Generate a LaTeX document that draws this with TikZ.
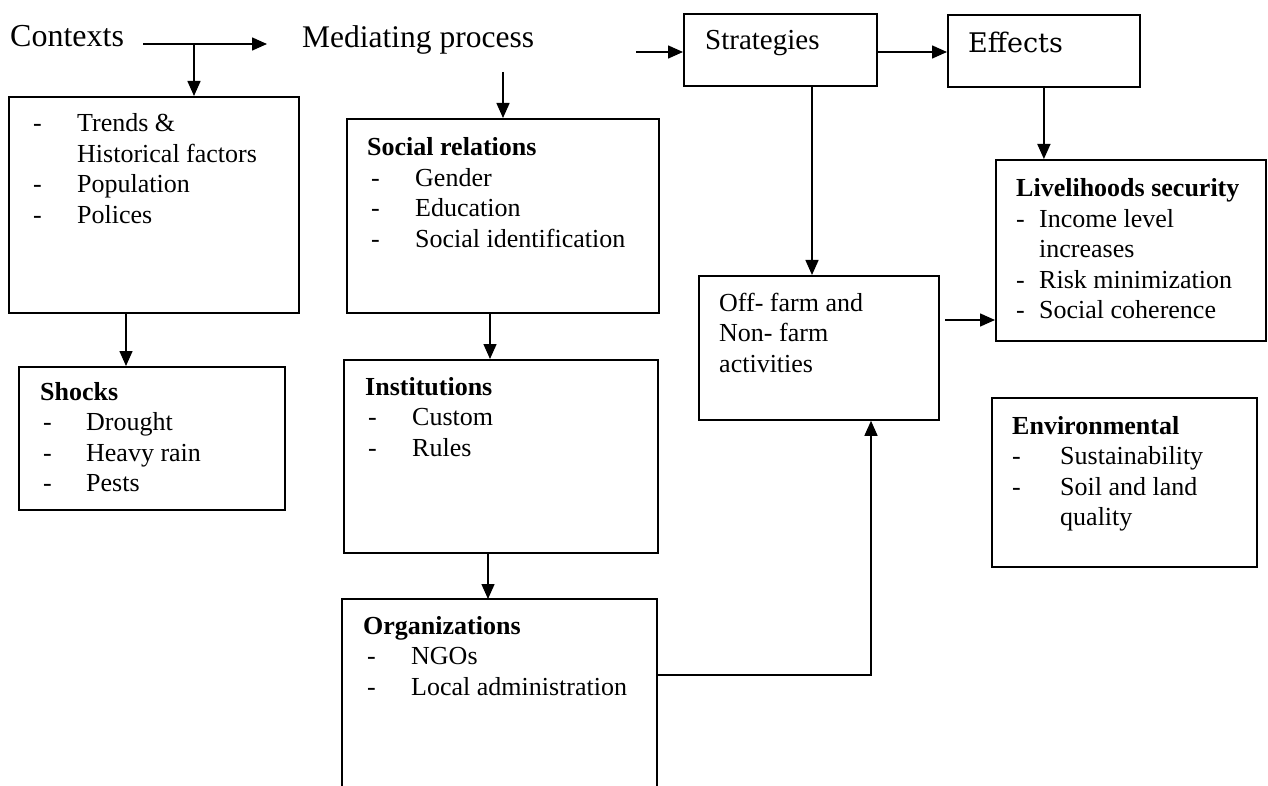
\documentclass[tikz,border=0pt]{standalone}
\usepackage{fontspec}
\setmainfont{Liberation Serif}
\newfontfamily\schfont{DejaVu Serif}
\usetikzlibrary{arrows.meta,calc}
% list entry: dash, then the entry text at a fixed indent
\newcommand\lst[2][44pt]{\makebox[#1][l]{-}#2}
% text block whose reference point is the baseline of its first line
\newcommand\blk[1]{\begin{tabular}[t]{@{}l@{}}#1\end{tabular}}
\begin{document}
\begin{tikzpicture}[x=1pt,y=-1pt,
  box/.style={draw, line width=1.8pt, inner sep=0pt, anchor=north west},
  txt/.style={inner sep=0pt, anchor=base west,
    font=\fontsize{26}{30.5}\selectfont},
  head/.style={inner sep=0pt, anchor=base west},
  arr/.style={line width=1.5pt, -{Triangle[length=15pt,width=13pt]}},
  link/.style={line width=1.8pt}]
\useasboundingbox[fill=white] (0,0) rectangle (1268,786);

% ---------- boxes ----------
\node[box, minimum width=290pt, minimum height=216pt] (trendsbox) at (8,96) {};
\node[box, minimum width=312pt, minimum height=194pt] (socialbox) at (346,118) {};
\node[box, minimum width=266pt, minimum height=143pt] (shocksbox) at (18,366) {};
\node[box, minimum width=314pt, minimum height=193pt] (instbox) at (343,359) {};
\node[box, draw=none, minimum width=313pt, minimum height=187pt] (orgbox) at (342,599) {};
\draw[link] (orgbox.south west) |- (orgbox.north east) -- (orgbox.south east);
\node[box, minimum width=193pt, minimum height=72pt] (stratbox) at (683,13) {};
\node[box, minimum width=192pt, minimum height=72pt] (effbox) at (947,14) {};
\node[box, minimum width=240pt, minimum height=144pt] (farmbox) at (698,275) {};
\node[box, minimum width=270pt, minimum height=181pt] (livebox) at (995,159) {};
\node[box, minimum width=265pt, minimum height=169pt] (envbox) at (991,397) {};

% ---------- headings ----------
\node[head, font=\fontsize{32}{37}\selectfont] (ctxT) at (10,47) {Contexts};
\node[head, font=\fontsize{31.5}{37}\selectfont] (medT) at (302,48) {Mediating process};
\node[head, font=\fontsize{29}{34}\selectfont] (stratT) at (705,50) {Strategies};
\node[head, font=\schfont\fontsize{27}{32}\selectfont] (effT) at (968,53) {Effects};

% ---------- box contents ----------
\node[txt] (trendsT) at (33,132) {\blk{\lst{Trends \&}\\ \hspace*{44pt}Historical factors\\ \lst{Population}\\ \lst{Polices}}};
\node[txt] (socialT) at (367,156) {\blk{\textbf{Social relations}\\ \hspace*{4pt}\lst{Gender}\\ \hspace*{4pt}\lst{Education}\\ \hspace*{4pt}\lst{Social identification}}};
\node[txt] (shocksT) at (40,400) {\blk{\textbf{Shocks}\\ \hspace*{3pt}\lst[43pt]{Drought}\\ \hspace*{3pt}\lst[43pt]{Heavy rain}\\ \hspace*{3pt}\lst[43pt]{Pests}}};
\node[txt] (instT) at (365,395) {\blk{\textbf{Institutions}\\ \hspace*{3pt}\lst{Custom}\\ \hspace*{3pt}\lst{Rules}}};
\node[txt] (orgT) at (363,634) {\blk{\textbf{Organizations}\\ \hspace*{4pt}\lst{NGOs}\\ \hspace*{4pt}\lst{Local administration}}};
\node[txt] (farmT) at (719,311) {\blk{Off- farm and\\ Non- farm\\ activities}};
\node[txt] (liveT) at (1016,197) {\blk{\textbf{Livelihoods security}\\ \lst[23pt]{Income level}\\ \hspace*{23pt}increases\\ \lst[23pt]{Risk minimization}\\ \lst[23pt]{Social coherence}}};
\node[txt] (envT) at (1012,434) {\blk{\textbf{Environmental}\\ \lst[48pt]{Sustainability}\\ \lst[48pt]{Soil and land}\\ \hspace*{48pt}quality}};

% ---------- connectors ----------
\coordinate (ca) at (143,44);
\coordinate (cb) at (267,44);
\draw[arr] (ca) -- (cb);
\coordinate (cbr) at (194,44);
\draw[arr] (cbr) -- (cbr |- trendsbox.north);
\coordinate (ma) at (503,72);
\draw[arr] (ma) -- (ma |- socialbox.north);
\coordinate (sa) at (636,52);
\draw[arr] (sa) -- (sa -| stratbox.west);
\draw[arr] (stratbox.east |- sa) -- (sa -| effbox.west);
\coordinate (sd) at (812,0);
\draw[arr] (sd |- stratbox.south) -- (sd |- farmbox.north);
\draw[arr] (effbox.south) -- (effbox.south |- livebox.north);
\coordinate (td) at (126,0);
\draw[arr] (td |- trendsbox.south) -- (td |- shocksbox.north);
\coordinate (rd) at (490,0);
\draw[arr] (rd |- socialbox.south) -- (rd |- instbox.north);
\coordinate (id) at (488,0);
\draw[arr] (id |- instbox.south) -- (id |- orgbox.north);
\coordinate (fa) at (945,320);
\draw[arr] (fa) -- (fa -| livebox.west);
\coordinate (oy) at (0,675);
\coordinate (ux) at (871,0);
\draw[arr] (orgbox.east |- oy) -| (ux |- farmbox.south);
\end{tikzpicture}
\end{document}
